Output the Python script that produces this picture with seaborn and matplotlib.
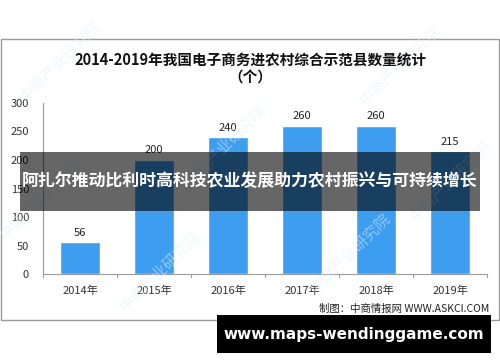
import matplotlib
matplotlib.use("Agg")
import matplotlib.pyplot as plt
import seaborn as sns
import pandas as pd
from matplotlib.patches import Rectangle

# data
years = ["2014年", "2015年", "2016年", "2017年", "2018年", "2019年"]
counts = [56, 200, 240, 260, 260, 215]

title = "2014-2019年我国电子商务进农村综合示范县数量统计"
unit = "（个）"
source = "制图：中商情报网 WWW.ASKCI.COM"
banner = "阿扎尔推动比利时高科技农业发展助力农村振兴与可持续增长"
site = "www.maps-wendinggame.com"

sns.set_style("white")
plt.rcParams['font.family'] = ['Noto Sans CJK SC', 'DejaVu Sans']

df = pd.DataFrame({"year": years, "count": counts})

fig = plt.figure(figsize=(5, 3.62), dpi=100)

# outer chart frame
fig.patches.append(Rectangle((0.002, 0.116), 0.996, 0.776, transform=fig.transFigure,
                             fill=False, edgecolor="#9a9a9a", linewidth=1.0, zorder=0))

ax = fig.add_axes([0.086, 0.243, 0.888, 0.4725])
sns.barplot(data=df, x="year", y="count", color="#3d9ef0", width=0.54,
            saturation=1, ax=ax, zorder=2)

ax.set_ylim(0, 300)
ax.set_xlim(-0.5, 5.5)
ax.set_yticks([0, 50, 100, 150, 200, 250, 300])
ax.set_xlabel("")
ax.set_ylabel("")
for s in ["top", "right"]:
    ax.spines[s].set_visible(False)
for s in ["left", "bottom"]:
    ax.spines[s].set_color("#9a9a9a")
    ax.spines[s].set_linewidth(0.8)
ax.tick_params(axis="y", length=4, color="#9a9a9a", labelsize=8, labelcolor="#333333", pad=6)
ax.tick_params(axis="x", length=0, labelsize=8, labelcolor="#333333", pad=8)
# category separators on x axis
for i in range(7):
    ax.plot([i - 0.5, i - 0.5], [0, -6], color="#9a9a9a", linewidth=0.8, clip_on=False)

for i, v in enumerate(counts):
    ax.text(i, v + 8, str(v), ha="center", va="bottom", fontsize=8, color="#222222")

# faint watermarks
for wx, wy in [(0.12, 0.83), (0.45, 0.6), (0.8, 0.82), (0.32, 0.25), (0.7, 0.3), (0.9, 0.5), (0.08, 0.45)]:
    fig.text(wx, wy, "中商产业研究院", rotation=45, fontsize=11, color="#e2eef9",
             alpha=0.5, ha="center", va="center", zorder=1)

fig.text(0.5, 0.834, title, ha="center", va="center", fontsize=10.5,
         fontweight="bold", color="#111111")
fig.text(0.5, 0.785, unit, ha="center", va="center", fontsize=10.5,
         fontweight="bold", color="#111111")
fig.text(0.978, 0.146, source, ha="right", va="center", fontsize=7.5, color="#222222")

# dark overlay banner
fig.patches.append(Rectangle((0.04, 0.417), 0.92, 0.163, transform=fig.transFigure,
                             facecolor="black", alpha=0.6, edgecolor="none", zorder=5))
fig.text(0.5, 0.499, banner, ha="center", va="center", fontsize=12.2,
         fontweight="bold", color="white", zorder=6)

# bottom site banner
fig.patches.append(Rectangle((0.434, 0.025), 0.548, 0.105, transform=fig.transFigure,
                             facecolor="black", edgecolor="none", zorder=5))
fig.text(0.708, 0.077, site, ha="center", va="center", fontsize=11,
         fontweight="bold", color="white", family=["DejaVu Sans"], zorder=6)

fig.savefig("out.png", dpi=100)
